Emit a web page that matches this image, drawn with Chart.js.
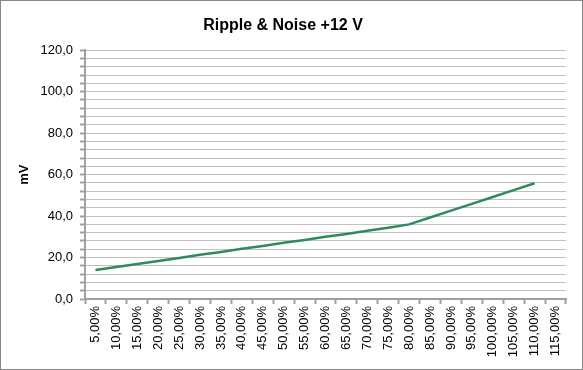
<!DOCTYPE html>
<html>
<head>
<meta charset="utf-8">
<script src="https://cdn.jsdelivr.net/npm/chart.js@4"></script>
<style>
  html, body { margin: 0; padding: 0; background: #fff; }
  #wrap { width: 583px; height: 370px; }
</style>
</head>
<body>
<div id="wrap"><canvas id="rippleChart" width="583" height="370"></canvas></div>
<script>
// load levels on the x axis
const loadLabels = ["5,00%", "10,00%", "15,00%", "20,00%", "25,00%", "30,00%", "35,00%", "40,00%",
    "45,00%", "50,00%", "55,00%", "60,00%", "65,00%", "70,00%", "75,00%", "80,00%",
    "85,00%", "90,00%", "95,00%", "100,00%", "105,00%", "110,00%", "115,00%"];

const rippleMv = [14.0, 15.4, 16.9, 18.3, 19.8, 21.3, 22.7, 24.2, 25.6, 27.1, 28.5, 30.0,
    31.4, 32.9, 34.4, 36.0, 39.3, 42.6, 45.9, 49.2, 52.5, 55.8, null];

// y axis: 0..120, gridline every 4, label every 20
const yMin = 0, yMax = 120, yStep = 4, yLabelEvery = 20;

const FONT = "'Liberation Sans', Arial, sans-serif";

// white background + thin grey frame like the excel chart
const frame = {
    id: 'frame',
    beforeDraw(chart) {
        const c = chart.ctx;
        c.save();
        c.fillStyle = '#fff';
        c.fillRect(0, 0, chart.width, chart.height);
        c.strokeStyle = '#868686';
        c.lineWidth = 1;
        c.strokeRect(0.5, 0.5, chart.width - 1, chart.height - 1);
        c.restore();
    }
};

const config = {
    type: 'line',
    data: {
        labels: loadLabels,
        datasets: [{
            label: 'Ripple & Noise +12 V',
            data: rippleMv,
            borderColor: '#2e8b5e',
            borderWidth: 2.5,
            pointRadius: 0,
            tension: 0,
            fill: false
        }]
    },
    options: {
        responsive: false,
        animation: false,
        layout: { padding: { left: 0, right: 17, top: 0, bottom: 0 } },
        plugins: {
            legend: { display: false },
            tooltip: { enabled: false },
            title: {
                display: true,
                text: 'Ripple & Noise +12 V',
                color: '#000',
                font: { family: FONT, size: 16, weight: 'bold', lineHeight: 1.2 },
                padding: { top: 16, bottom: 15 }
            }
        },
        scales: {
            x: {
                type: 'category',
                offset: true,
                grid: {
                    offset: true,
                    drawOnChartArea: false,
                    drawTicks: true,
                    tickLength: 5,
                    tickWidth: 2,
                    tickColor: '#a0a0a0'
                },
                border: { color: '#a0a0a0', width: 2 },
                ticks: {
                    autoSkip: false,
                    minRotation: 90,
                    maxRotation: 90,
                    padding: 2,
                    color: '#000',
                    font: { family: FONT, size: 13 }
                },
                afterFit(s) { s.height = 71; }
            },
            y: {
                min: yMin,
                max: yMax,
                grid: {
                    color: '#c0c0c0',
                    lineWidth: 1,
                    drawTicks: true,
                    tickLength: 5,
                    tickColor: '#a0a0a0',
                    tickWidth: 2
                },
                border: { color: '#a0a0a0', width: 2 },
                ticks: {
                    stepSize: yStep,
                    autoSkip: false,
                    padding: 7,
                    color: '#000',
                    font: { family: FONT, size: 13 },
                    callback: v => (v % yLabelEvery === 0 ? v.toFixed(1).replace('.', ',') : '')
                },
                title: {
                    display: true,
                    text: 'mV',
                    color: '#000',
                    font: { family: FONT, size: 13, weight: 'bold' },
                    padding: { top: 17, bottom: 0 }
                },
                afterFit(s) { s.width = 85; }
            }
        }
    },
    plugins: [frame]
};

const ctx = document.getElementById('rippleChart').getContext('2d');
const rippleChart = new Chart(ctx, config);
</script>
</body>
</html>
